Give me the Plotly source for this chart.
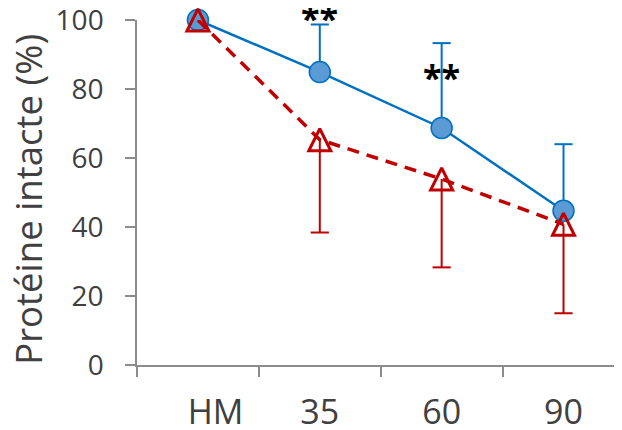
import plotly.graph_objects as go

categories = ["HM", "35", "60", "90"]
blue_values = [100, 84.9, 68.7, 44.7]
blue_err_upper = [100, 98.7, 93.3, 64.0]
red_values = [100, 65.3, 53.9, 40.8]
red_err_lower = [100, 38.4, 28.3, 15.0]
star_categories = ["35", "60"]
star_values = [99.5, 82.3]
star_labels = ["**", "**"]
y_ticks = [0, 20, 40, 60, 80, 100]
y_title = "Protéine intacte (%)"

BLUE = "#0070C0"
BLUE_FILL = "#5B9BD5"
RED = "#C00000"
GRAY = "#8c8c8c"
TEXT = "#404040"
FONT = "Open Sans"

blue_plus = [u - v for u, v in zip(blue_err_upper, blue_values)]
red_minus = [v - l for v, l in zip(red_values, red_err_lower)]
zeros = [0] * len(categories)

fig = go.Figure()

# Blue series
fig.add_trace(go.Scatter(
    x=categories, y=blue_values, mode="lines+markers",
    line=dict(color=BLUE, width=2.5),
    marker=dict(symbol="circle", size=21, color=BLUE_FILL,
                line=dict(color=BLUE, width=1.5)),
    error_y=dict(type="data", symmetric=False, array=blue_plus,
                 arrayminus=zeros, color=BLUE, thickness=2, width=0),
    cliponaxis=False, showlegend=False,
))
# Blue caps
fig.add_trace(go.Scatter(
    x=categories[1:], y=blue_err_upper[1:], mode="markers",
    marker=dict(symbol="line-ew", size=13, line=dict(color=BLUE, width=2)),
    cliponaxis=False, showlegend=False,
))
# Red series
fig.add_trace(go.Scatter(
    x=categories, y=red_values, mode="lines",
    line=dict(color=RED, width=3.5, dash="12px,8px"),
    error_y=dict(type="data", symmetric=False, array=zeros,
                 arrayminus=red_minus, color=RED, thickness=2, width=0),
    cliponaxis=False, showlegend=False,
))
fig.add_trace(go.Scatter(
    x=categories, y=red_values, mode="markers",
    marker=dict(symbol="arrow-down-open", angle=180, standoff=11, size=22,
                color=RED, line=dict(color=RED, width=3)),
    cliponaxis=False, showlegend=False,
))
# Red caps
fig.add_trace(go.Scatter(
    x=categories[1:], y=red_err_lower[1:], mode="markers",
    marker=dict(symbol="line-ew", size=13, line=dict(color=RED, width=2)),
    cliponaxis=False, showlegend=False,
))

for c, v, t in zip(star_categories, star_values, star_labels):
    fig.add_annotation(x=categories.index(c), y=v, text="<b>" + t + "</b>", showarrow=False,
                       font=dict(family=FONT, size=34, color="black"),
                       xanchor="center", yanchor="middle", yshift=4)

fig.add_annotation(xref="paper", yref="paper", x=-0.224, y=0.48,
                   text=y_title, textangle=-90, showarrow=False,
                   font=dict(family=FONT, size=36.5, color=TEXT),
                   xanchor="center", yanchor="middle")

# page body has an 8px margin, so the figure is sized to fill the rest of the window
fig.update_layout(
    width=614, height=422,
    margin=dict(l=129, r=0, t=12, b=65, autoexpand=False),
    plot_bgcolor="white", paper_bgcolor="white",
    font=dict(family=FONT, color=TEXT),
    showlegend=False,
)
fig.update_xaxes(
    type="category", categoryorder="array", categoryarray=categories,
    range=[-0.5, 3.48], automargin=False,
    showline=True, linecolor=GRAY, linewidth=1.5,
    ticks="outside", tickson="boundaries", ticklen=10, tickwidth=1.5, tickcolor=GRAY,
    showgrid=False, zeroline=False,
    tickfont=dict(family=FONT, size=34, color=TEXT),
    labelalias={"HM": "\u00a0\u00a0\u00a0\u00a0HM"},
    ticklabelstandoff=16, ticklabeloverflow="allow",
)
fig.update_yaxes(
    range=[0, 100], tickvals=y_ticks, automargin=False,
    showline=True, linecolor=GRAY, linewidth=1.5,
    ticks="outside", ticklen=10, tickwidth=1.5, tickcolor=GRAY,
    showgrid=False, zeroline=False,
    tickfont=dict(family=FONT, size=28, color=TEXT),
    ticklabelstandoff=16, ticklabeloverflow="allow",
)

fig.write_html("out.html")
